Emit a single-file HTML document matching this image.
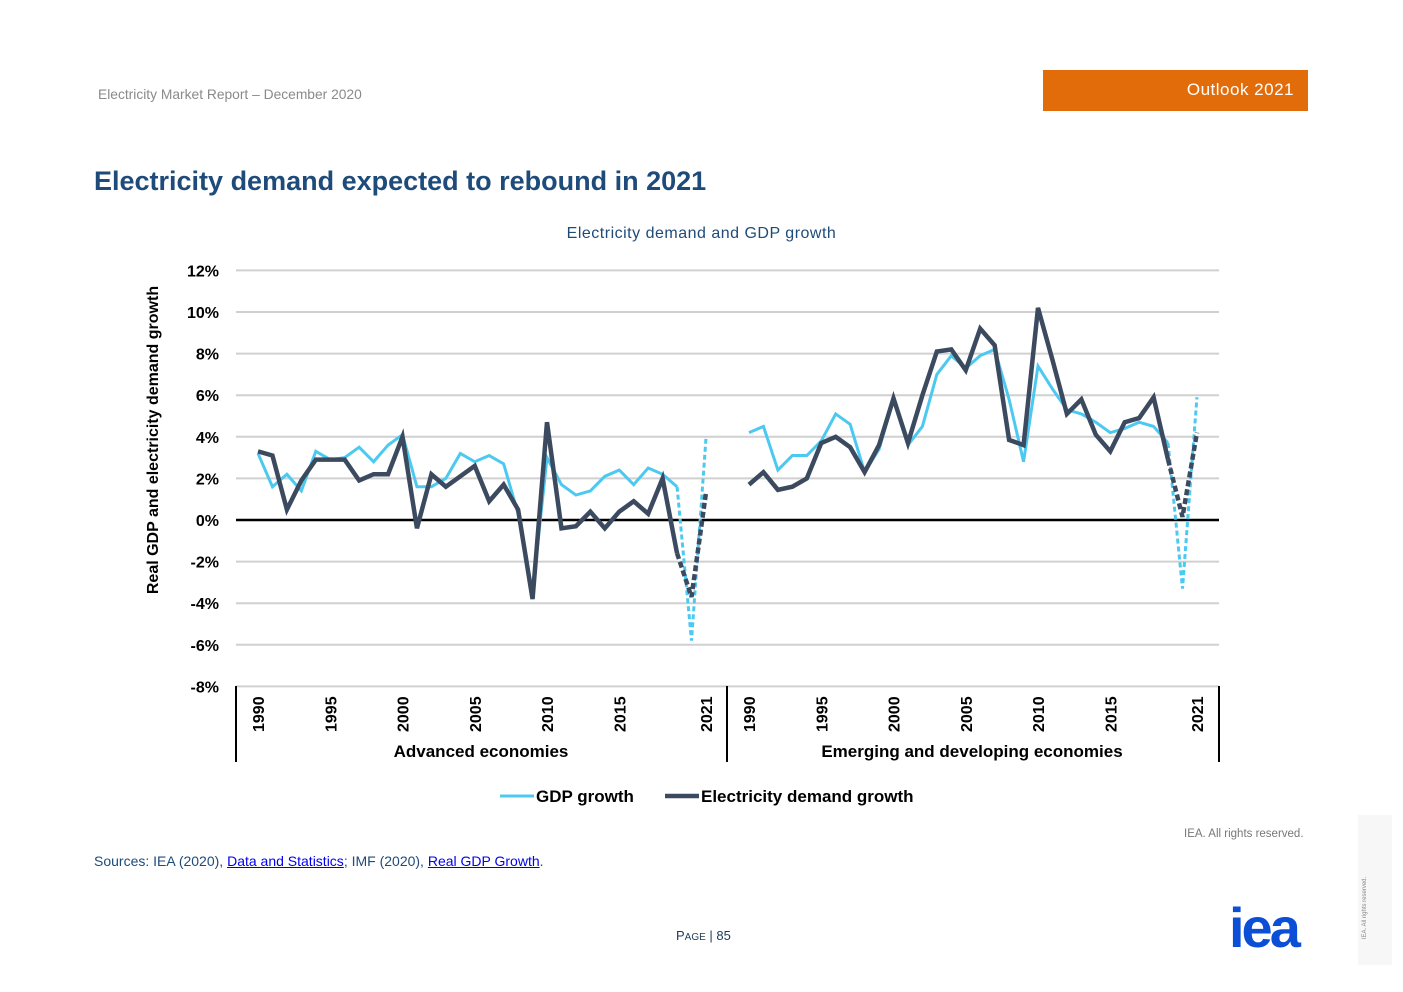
<!DOCTYPE html>
<html><head><meta charset="utf-8">
<style>
body{margin:0;width:1403px;height:992px;background:#fff;font-family:"Liberation Sans",sans-serif;position:relative;overflow:hidden}
.abs{position:absolute}
</style></head><body>
<div class="abs" style="left:98px;top:87px;font-size:13.8px;color:#8a8a8a">Electricity Market Report – December 2020</div>
<div class="abs" style="left:1043px;top:70px;width:265px;height:41px;background:#e36c0a;color:#fff;font-size:17px;line-height:40px;text-align:right;box-sizing:border-box;padding-right:14px;letter-spacing:0.5px">Outlook 2021</div>
<div class="abs" style="left:94px;top:166px;font-size:27px;font-weight:bold;color:#1e4b7a">Electricity demand expected to rebound in 2021</div>
<div class="abs" style="left:0;width:1403px;top:225px;text-align:center;font-size:16px;color:#1e4b7a;letter-spacing:0.5px">Electricity demand and GDP growth</div>
<svg class="abs" style="left:0;top:0" width="1403" height="992" id="chart"></svg>
<div class="abs" style="left:1184px;top:828px;font-size:11.5px;color:#777">IEA. All rights reserved.</div>
<div class="abs" style="left:94px;top:853px;font-size:14px;color:#1e4b7a">Sources: IEA (2020), <a style="color:#0000ee;text-decoration:underline">Data and Statistics</a>; IMF (2020), <a style="color:#0000ee;text-decoration:underline">Real GDP Growth</a>.</div>
<div class="abs" style="left:676px;top:928px;font-size:13px;color:#1e3a5a">P<span style="font-size:10px">AGE</span> | 85</div>
<div class="abs" style="left:1358px;top:815px;width:34px;height:150px;background:#f7f7f7"></div>
<div class="abs" style="left:1320px;top:905px;width:90px;font-size:6px;color:#888;transform:rotate(-90deg);text-align:center">IEA. All rights reserved.</div>
<div class="abs" style="left:1229px;top:900px;font-size:56px;font-weight:bold;color:#0a4fd6;letter-spacing:-3px;line-height:56px">iea</div>
<script>
const years=[1990,1991,1992,1993,1994,1995,1996,1997,1998,1999,2000,2001,2002,2003,2004,2005,2006,2007,2008,2009,2010,2011,2012,2013,2014,2015,2016,2017,2018,2019,2020,2021];
const advGdp=[3.2,1.6,2.2,1.4,3.3,2.9,3.0,3.5,2.8,3.6,4.1,1.6,1.6,2.0,3.2,2.8,3.1,2.7,0.3,-3.5,3.0,1.7,1.2,1.4,2.1,2.4,1.7,2.5,2.2,1.6,-5.8,3.9];
const advElec=[3.3,3.1,0.5,1.9,2.9,2.9,2.9,1.9,2.2,2.2,4.0,-0.4,2.2,1.6,2.1,2.6,0.9,1.7,0.5,-3.8,4.7,-0.4,-0.3,0.4,-0.4,0.4,0.9,0.3,2.0,-1.6,-3.7,1.3];
const emGdp=[4.2,4.5,2.4,3.1,3.1,3.8,5.1,4.6,2.3,3.4,5.8,3.6,4.5,7.0,7.9,7.3,7.9,8.2,5.8,2.8,7.4,6.3,5.3,5.1,4.7,4.2,4.4,4.7,4.5,3.7,-3.3,5.9];
const emElec=[1.7,2.3,1.45,1.6,2.0,3.7,4.0,3.5,2.3,3.6,5.85,3.7,6.0,8.1,8.2,7.2,9.2,8.4,3.85,3.6,10.2,7.7,5.1,5.8,4.1,3.3,4.7,4.9,5.9,2.9,0.15,4.2];
const yTicks=[12,10,8,6,4,2,0,-2,-4,-6,-8];
const yearLabels=[1990,1995,2000,2005,2010,2015,2021];
const groups=["Advanced economies","Emerging and developing economies"];
const svg=document.getElementById('chart');
const NS='http://www.w3.org/2000/svg';
function yS(v){return 520-v*20.8;}
const groupX0=[258,749];const step=14.45;
function xS(g,yr){return groupX0[g]+(yr-1990)*step;}
function mk(t,a){const e=document.createElementNS(NS,t);for(const k in a)e.setAttribute(k,a[k]);svg.appendChild(e);return e;}
yTicks.forEach(v=>{
 const l=mk('line',{x1:236,x2:1219,y1:yS(v),y2:yS(v),stroke:v===0?'#000':'#d0d0d0','stroke-width':v===0?2.5:2});
 
 
 const t=mk('text',{x:219,y:yS(v)+6,'text-anchor':'end','font-size':16,'font-weight':'bold',fill:'#000'});
 t.textContent=v+'%';
 
 
});
[236,727,1219].forEach(x=>{
 const l=mk('line',{x1:x,x2:x,y1:686,y2:762,stroke:'#000','stroke-width':2});
 
 
});
[0,1].forEach(g=>{
 yearLabels.forEach(yr=>{
  const x=xS(g,yr)+6;
  const t=mk('text',{x:x,y:732,transform:`rotate(-90 ${x} 732)`,'font-size':16,'font-weight':'bold',fill:'#000'});
  t.textContent=yr;
  
  
 });
 const c=mk('text',{x:g===0?481:972,y:757,'text-anchor':'middle','font-size':17,'font-weight':'bold',fill:'#000'});
 c.textContent=groups[g];
 
 
});
const yt=mk('text',{x:158,y:440,transform:'rotate(-90 158 440)','text-anchor':'middle','font-size':16,'font-weight':'bold',fill:'#000'});
yt.textContent='Real GDP and electricity demand growth';


function series(g,vals,color,w,name){
 const solid=vals.slice(0,30).map((v,i)=>xS(g,years[i])+','+yS(v)).join(' ');
 const p=mk('polyline',{points:solid,fill:'none',stroke:color,'stroke-width':w,'stroke-linejoin':'miter'});
 
 
 const dash=vals.slice(29).map((v,i)=>xS(g,years[i+29])+','+yS(v)).join(' ');
 const d=mk('polyline',{points:dash,fill:'none',stroke:color,'stroke-width':w,'stroke-dasharray':w>3?'6,3':'5,3'});
 
 
}
series(0,advGdp,'#4cc9f0',3,'advanced-gdp');
series(0,advElec,'#3c4a60',4.5,'advanced-electricity');
series(1,emGdp,'#4cc9f0',3,'emerging-gdp');
series(1,emElec,'#3c4a60',4.5,'emerging-electricity');
const leg=[[500,'#4cc9f0',3,'GDP growth'],[665,'#3c4a60',4.5,'Electricity demand growth']];
leg.forEach(([x,c,w,txt])=>{
 const l=mk('line',{x1:x,x2:x+34,y1:796,y2:796,stroke:c,'stroke-width':w});
 
 
 const t=mk('text',{x:x+36,y:802,'font-size':17,'font-weight':'bold',fill:'#000'});
 t.textContent=txt;
 
 
});
</script>
</body></html>
